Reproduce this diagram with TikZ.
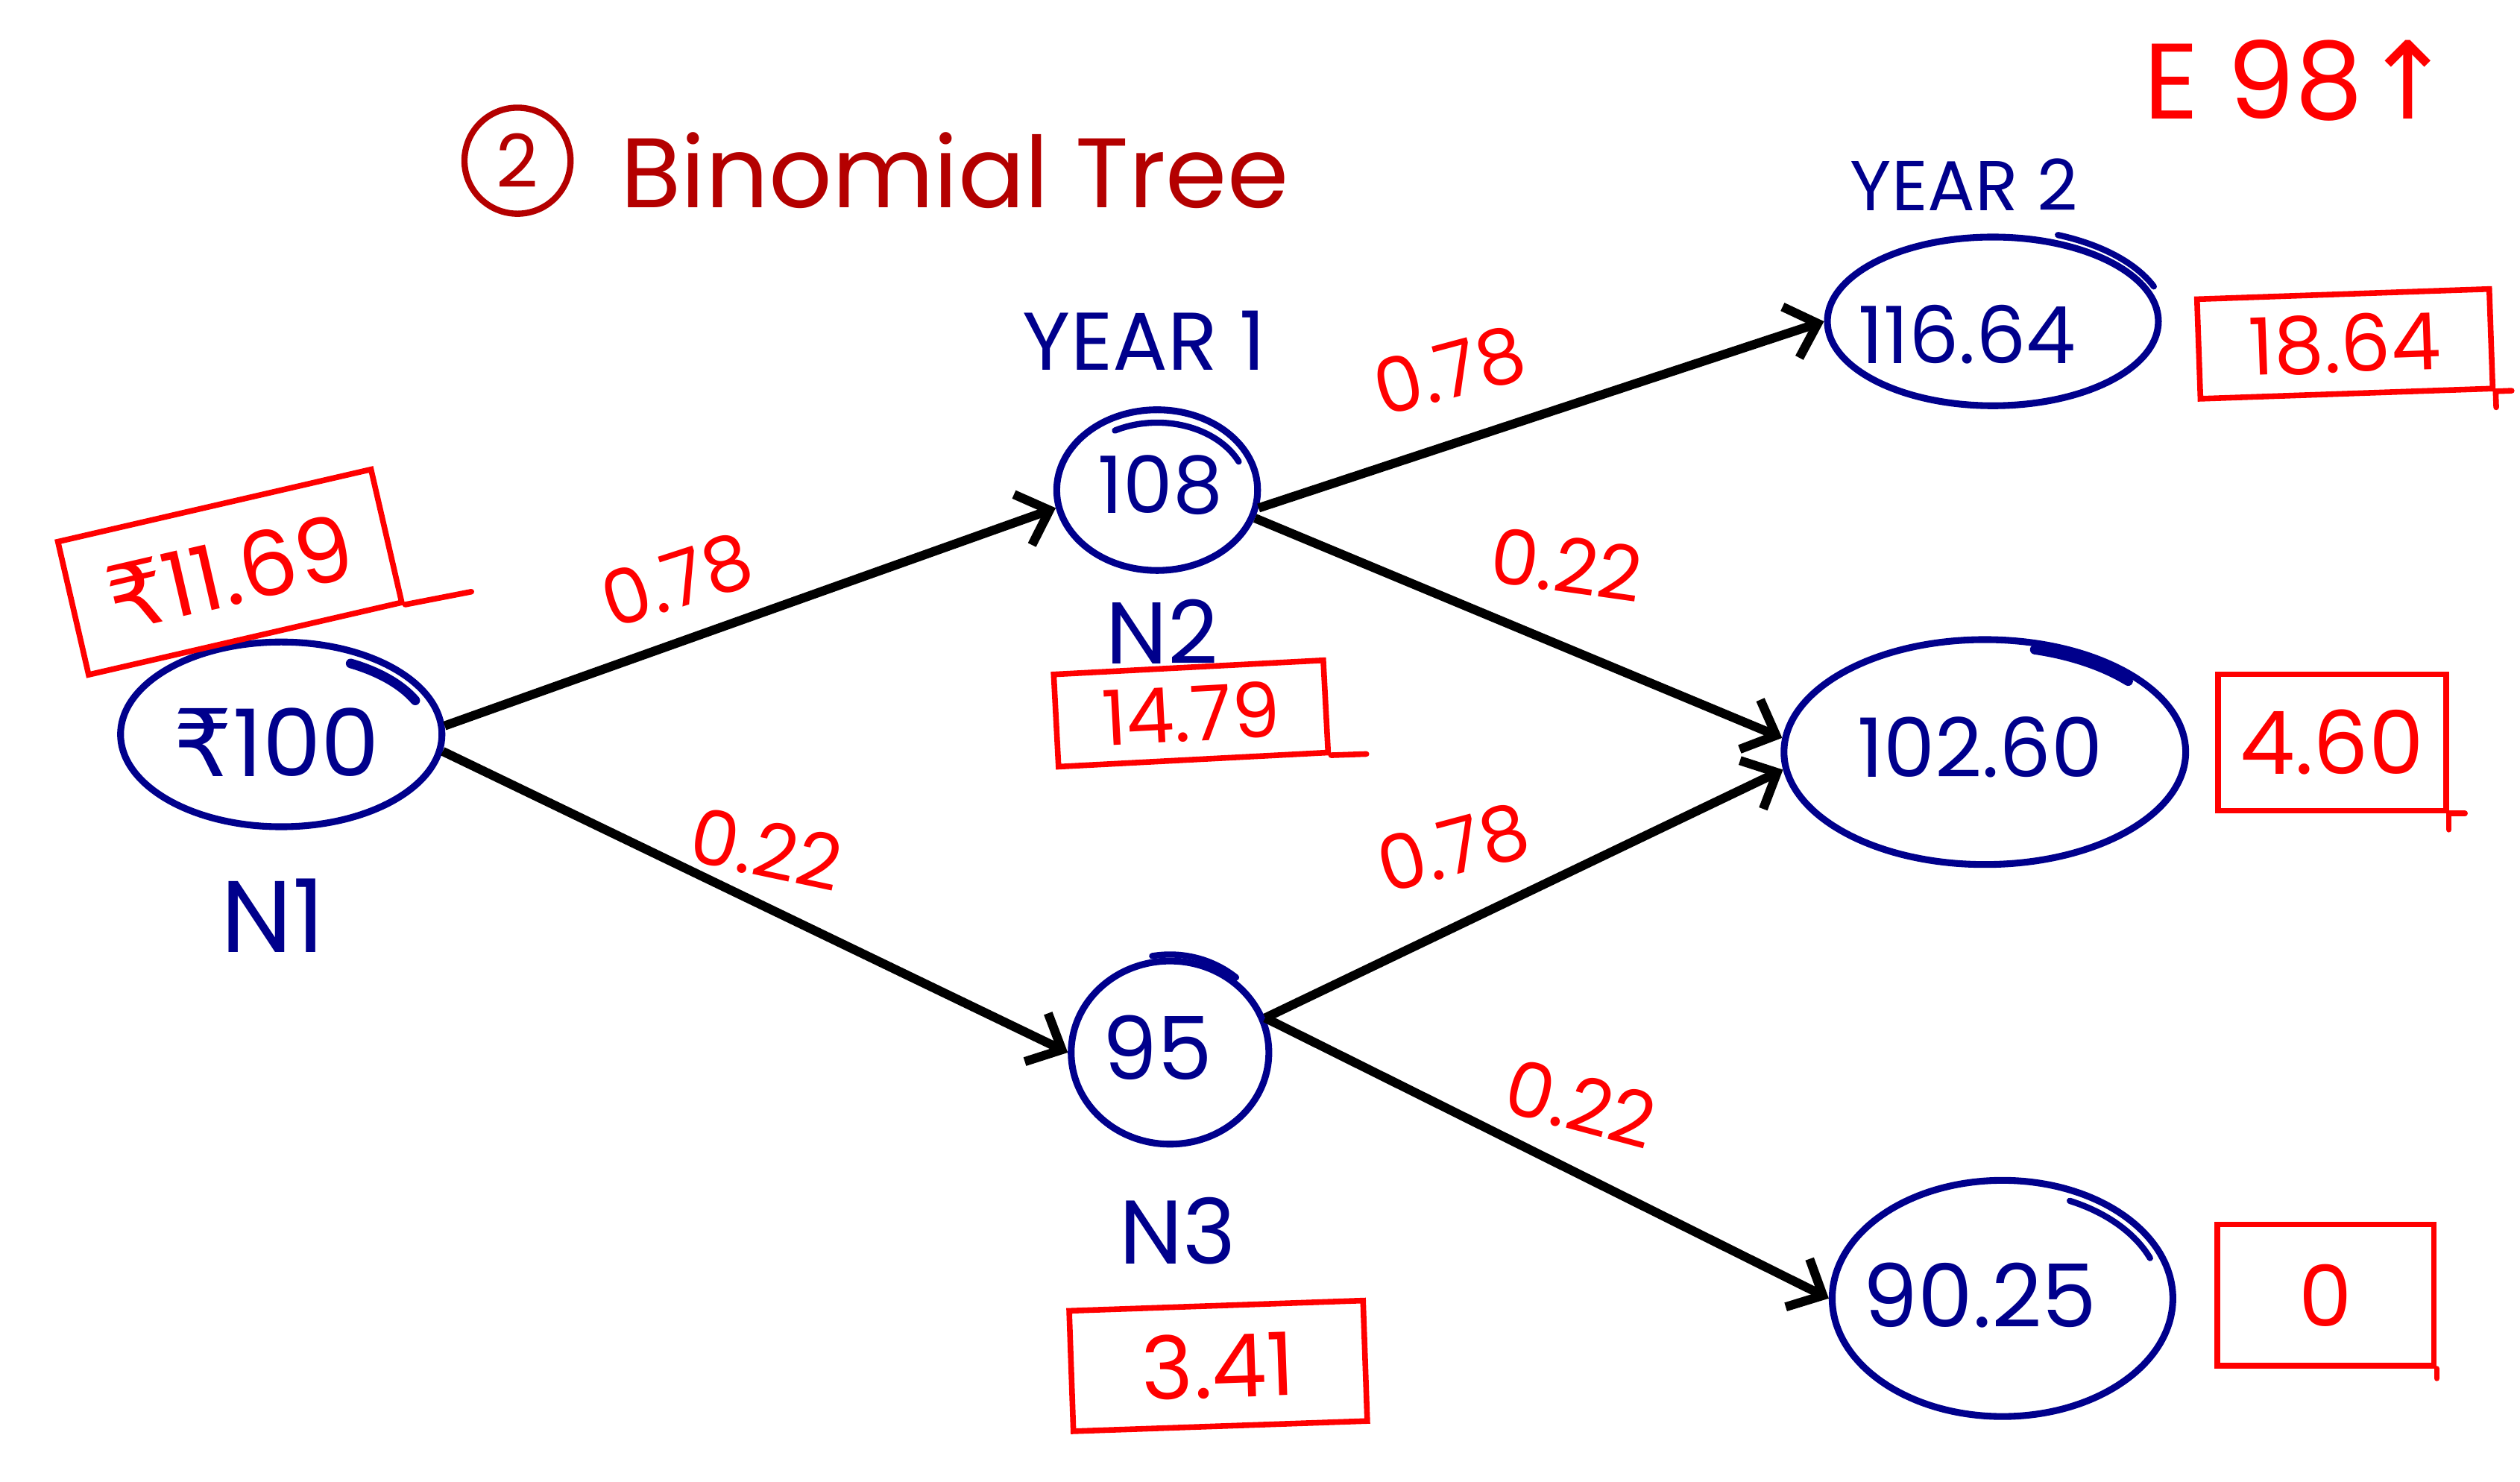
\documentclass[tikz,border=0pt]{standalone}
\usepackage{fontspec}
\setmainfont{Poppins}
\newfontfamily\dejavu{DejaVu Sans}
\usetikzlibrary{shapes.geometric,arrows.meta}
\definecolor{inkblue}{RGB}{0,0,140}
\definecolor{inkred}{RGB}{255,0,0}
\definecolor{titlered}{RGB}{180,0,0}
\newcommand\rup{{\dejavu ₹}}
\begin{document}
\begin{tikzpicture}[x=0.02cm,y=-0.02cm,
  bubble/.style={ellipse, draw=inkblue, line width=2.4pt, inner sep=0pt},
  stroke/.style={draw=inkblue, line width=2.2pt, line cap=round},
  redline/.style={draw=inkred, line width=2pt, line cap=round},
  val/.style={text=inkblue, inner sep=0pt, font=\fontsize{30}{36}\selectfont},
  tag/.style={text=inkblue, inner sep=0pt, font=\fontsize{32}{38}\selectfont},
  payoff/.style={draw=inkred, line width=2pt, text=inkred, inner sep=0pt, font=\fontsize{30}{36}\selectfont},
  prob/.style={text=inkred, inner sep=0pt, font=\fontsize{27}{32}\selectfont},
  branch/.style={draw=black, line width=3.2pt, -{Straight Barb[length=10pt,width=19pt]}}
]
\useasboundingbox (0,0) rectangle (1568,922);

% title
\node[circle, draw=titlered, line width=2.2pt, minimum size=1.32cm, inner sep=0pt,
      text=titlered, font=\fontsize{26}{30}\selectfont] (num) at (322,100) {2};
\node[text=titlered, inner sep=0pt, font=\fontsize{35}{40}\selectfont] (title) at (594,106) {Binomial Tree};
\node[text=inkred, inner sep=0pt, font=\fontsize{38}{44}\selectfont] (ex) at (1430,50) {E 98{\dejavu ↑}};

% nodes
\node[bubble, minimum width=4cm, minimum height=2.3cm] (N1) at (175,457) {};
\node[bubble, minimum width=2.5cm, minimum height=2.0cm] (N2) at (720,305) {};
\node[bubble, minimum width=2.46cm, minimum height=2.28cm] (N3) at (728,655) {};
\node[bubble, minimum width=4.12cm, minimum height=2.1cm] (N4) at (1240,200) {};
\node[bubble, minimum width=5.0cm, minimum height=2.8cm] (N5) at (1235,468) {};
\node[bubble, minimum width=4.24cm, minimum height=2.94cm] (N6) at (1246,808) {};

% extra hand strokes on bubbles
\draw[stroke, line width=3.4pt] ([shift={(-62:92 and 50)}]N1.center) arc[start angle=-62, end angle=-25, x radius=92, y radius=50];
\draw[stroke] ([shift={(-118:56 and 42)}]N2.center) arc[start angle=-118, end angle=-25, x radius=56, y radius=42];
\draw[stroke] ([shift={(-100:64 and 61)}]N3.center) arc[start angle=-100, end angle=-50, x radius=64, y radius=61];
\draw[stroke] ([shift={(-68:108 and 58)}]N4.center) arc[start angle=-68, end angle=-22, x radius=108, y radius=58];
\draw[stroke, line width=3.4pt] ([shift={(-75:120 and 66)}]N5.center) arc[start angle=-75, end angle=-42, x radius=120, y radius=66];
\draw[stroke] ([shift={(-65:99 and 67)}]N6.center) arc[start angle=-65, end angle=-22, x radius=99, y radius=67];

% values
\node[val, font=\fontsize{33}{40}\selectfont] (V1) at (172,462) {\rup100};
\node[val, font=\fontsize{28}{34}\selectfont] (V2) at (722,302) {108};
\node[val, font=\fontsize{31}{36}\selectfont] (V3) at (720,652) {95};
\node[val, font=\fontsize{28}{34}\selectfont] (V4) at (1224,208) {116.64};
\node[val, font=\fontsize{29}{34}\selectfont] (V5) at (1232,465) {102.60};
\node[val, font=\fontsize{31}{36}\selectfont] (V6) at (1232,806) {90.25};

% tags
\node[tag, font=\fontsize{36}{42}\selectfont] (T1) at (170,570) {N1};
\node[tag, font=\fontsize{31}{36}\selectfont] (T2) at (723,393) {N2};
\node[tag, font=\fontsize{32}{38}\selectfont] (T3) at (733,766) {N3};
\node[tag, font=\fontsize{29}{34}\selectfont] (Y1) at (712,212) {YEAR 1};
\node[tag, font=\fontsize{25}{30}\selectfont] (Y2) at (1222,115) {YEAR 2};

% payoff boxes
\node[payoff, rotate=13, minimum width=4.0cm, minimum height=1.7cm, font=\fontsize{32}{38}\selectfont] (B1) at (143,356) {\rup11.69};
\node[payoff, rotate=3, minimum width=3.36cm, minimum height=1.15cm, font=\fontsize{27}{32}\selectfont] (B2) at (741,444) {14.79};
\node[payoff, rotate=2, minimum width=3.66cm, minimum height=1.5cm, font=\fontsize{31}{36}\selectfont] (B3) at (758,850) {3.41};
\node[payoff, rotate=2, minimum width=3.64cm, minimum height=1.24cm, font=\fontsize{28}{34}\selectfont] (B4) at (1459,214) {18.64};
\node[payoff, minimum width=2.84cm, minimum height=1.7cm, font=\fontsize{31}{36}\selectfont] (B5) at (1451,462) {4.60};
\node[payoff, minimum width=2.7cm, minimum height=1.76cm, font=\fontsize{30}{36}\selectfont] (B6) at (1447,806) {0};

% hand-drawn overshoots of the boxes
\draw[redline] (B1.south east) -- ++(-11:42);
\draw[redline] (B2.south east) -- ++(-2:22);
\draw[redline] (B4.south east) -- ++(-2:10);
\draw[redline] (B4.south east) -- ++(88:10);
\draw[redline] (B5.south east) -- ++(0:10);
\draw[redline] (B5.south east) -- ++(90:10);
\draw[redline] (B6.south east) -- ++(90:6);

% branches
\draw[branch] (N1.3) -- (N2.190) node[prob, pos=0.41, rotate=18, yshift=21pt] {0.78};
\draw[branch] (N1.-6) -- (N3.180) node[prob, pos=0.5, rotate=-12, yshift=19pt] {0.22};
\draw[branch] (N2.-10) -- (N4.180) node[prob, pos=0.37, rotate=15, yshift=25pt] {0.78};
\draw[branch] (N2.-16) -- (N5.176) node[prob, pos=0.57, rotate=-8, yshift=28pt] {0.22};
\draw[branch] (N3.20) -- (N5.185) node[prob, pos=0.4, rotate=15, yshift=26pt] {0.78};
\draw[branch] (N3.20) -- (N6.180) node[prob, pos=0.53, rotate=-15, yshift=23pt] {0.22};
\end{tikzpicture}
\end{document}
